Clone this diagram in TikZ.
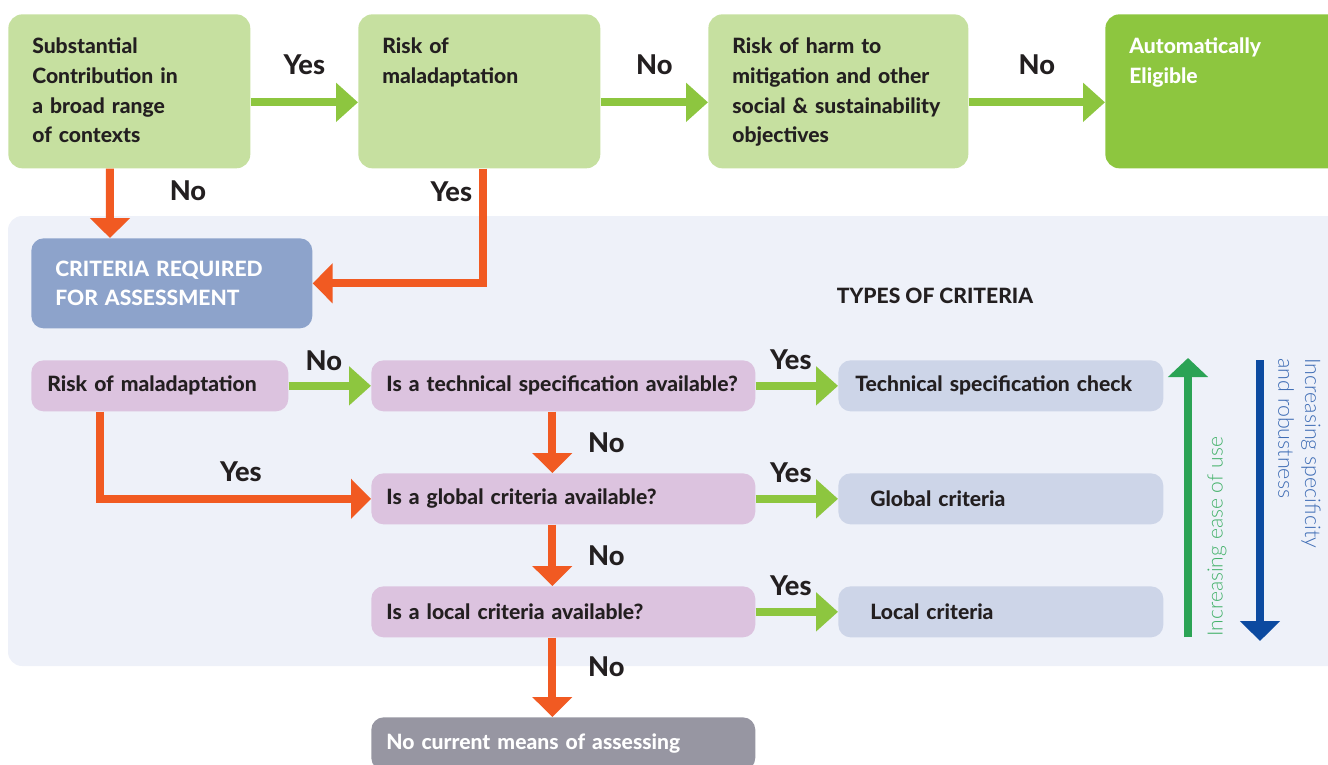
\documentclass[tikz,border=0pt]{standalone}
\usepackage{fontspec}
\setmainfont{Lato}[BoldFont={Lato Heavy}]
\newfontfamily\thinfont{Lato Light}
\usetikzlibrary{arrows.meta}

\definecolor{ink}{HTML}{231F20}
\definecolor{leafpale}{HTML}{C6E0A0}
\definecolor{leafdark}{HTML}{8DC63F}
\definecolor{stoporange}{HTML}{F15A22}
\definecolor{panelgrey}{HTML}{EEF1F9}
\definecolor{critblue}{HTML}{8DA3CB}
\definecolor{askpink}{HTML}{DCC3DF}
\definecolor{typeblue}{HTML}{CDD5E8}
\definecolor{noneGrey}{HTML}{9796A2}
\definecolor{easegreen}{HTML}{2BA355}
\definecolor{easetext}{HTML}{45B26B}
\definecolor{specblue}{HTML}{0C4AA0}
\definecolor{spectext}{HTML}{3F6DB5}

\tikzset{
  boxfont/.style={font=\bfseries\fontsize{12}{17}\selectfont},
  topbox/.style={boxfont, anchor=north west, fill=leafpale, text=ink,
    rounded corners=8pt, align=left, inner xsep=0.48cm, inner ysep=0pt,
    text height=0.78cm, text depth=2.30cm},
  midbox/.style={boxfont, anchor=north west, text=ink, rounded corners=7pt,
    align=left, inner ysep=0pt, minimum height=1.02cm},
  yesno/.style={font=\bfseries\fontsize{15.5}{18}\selectfont, text=ink},
  goarrow/.style={draw=leafdark, line width=0.16cm,
    -{Triangle[length=0.44cm,width=0.76cm]}},
  stoparrow/.style={draw=stoporange, line width=0.16cm,
    -{Triangle[length=0.40cm,width=0.78cm]}},
}

\begin{document}
\begin{tikzpicture}[x=0.02cm,y=-0.02cm]
  \useasboundingbox (0,0) rectangle (1328,764);
  \fill[panelgrey, rounded corners=8pt] (8,216) rectangle (1350,666);

  % top row
  \node[topbox, text width=3.88cm] (contrib) at (8,14) {Substantial\\Contribution in\\a broad range\\of contexts};
  \node[topbox, text width=3.88cm] (riskA) at (358,14) {Risk of\\maladaptation};
  \node[topbox, text width=4.24cm] (harm) at (708,14) {Risk of harm to\\mitigation and other\\social \& sustainability\\objectives};
  \node[topbox, text width=4.24cm, fill=leafdark, text=white] (eligible) at (1105,14) {Automatically\\Eligible};

  \node[midbox, fill=critblue, text=white, text width=4.66cm, inner xsep=0.48cm, minimum height=1.8cm] (crit) at (31,238) {CRITERIA REQUIRED\\FOR ASSESSMENT};
  \node[boxfont, text=ink] (types) at (935,296) {TYPES OF CRITERIA};

  % questions
  \node[midbox, fill=askpink, text width=4.5cm, inner xsep=0.32cm] (riskB) at (31,360) {Risk of maladaptation};
  \node[midbox, fill=askpink, text width=7.08cm, inner xsep=0.3cm] (techQ) at (371,360) {Is a technical specification available?};
  \node[midbox, fill=askpink, text width=7.08cm, inner xsep=0.3cm] (globQ) at (371,473) {Is a global criteria available?};
  \node[midbox, fill=askpink, text width=7.08cm, inner xsep=0.3cm] (locQ) at (371,586) {Is a local criteria available?};
  \node[midbox, fill=noneGrey, text=white, text width=7.08cm, inner xsep=0.3cm, minimum height=1.06cm] (none) at (371,717) {No current means of assessing};

  \node[midbox, fill=typeblue, text width=5.82cm, inner xsep=0.34cm] (techC) at (838,360) {Technical specification check};
  \node[midbox, fill=typeblue, text width=5.22cm, inner xsep=0.64cm] (globC) at (838,473) {Global criteria};
  \node[midbox, fill=typeblue, text width=5.22cm, inner xsep=0.64cm] (locC) at (838,586) {Local criteria};

  % connectors
  \draw[goarrow] ([yshift=-0.22cm]contrib.east) -- node[yesno, yshift=0.76cm] {Yes} ([yshift=-0.22cm]riskA.west);
  \draw[goarrow] ([yshift=-0.22cm]riskA.east) -- node[yesno, yshift=0.76cm] {No} ([yshift=-0.22cm]harm.west);
  \draw[goarrow] ([yshift=-0.22cm]harm.east) -- node[yesno, yshift=0.76cm] {No} ([yshift=-0.22cm]eligible.west);
  \draw[stoparrow] ([xshift=2.04cm]contrib.south west) -- node[yesno, xshift=1.56cm, yshift=0.26cm] {No} ([xshift=1.58cm]crit.north west);
  \draw[stoparrow] ([xshift=0.08cm]riskA.south) |- node[pos=0.1, yesno, xshift=-0.64cm] {Yes} (crit.east);

  \draw[goarrow] (riskB) -- node[yesno, xshift=-0.12cm, yshift=0.5cm] {No} (techQ);
  \draw[stoparrow] ([xshift=1.38cm]riskB.south west) |- node[pos=0.76, yesno, yshift=0.54cm] {Yes} (globQ.west);
  \draw[goarrow] (techQ) -- node[yesno, xshift=-0.12cm, yshift=0.52cm] {Yes} (techC);
  \draw[goarrow] (globQ) -- node[yesno, xshift=-0.12cm, yshift=0.52cm] {Yes} (globC);
  \draw[goarrow] (locQ) -- node[yesno, xshift=-0.12cm, yshift=0.52cm] {Yes} (locC);
  \draw[stoparrow] ([xshift=-0.22cm]techQ.south) -- node[yesno, xshift=1.08cm] {No} ([xshift=-0.22cm]globQ.north);
  \draw[stoparrow] ([xshift=-0.22cm]globQ.south) -- node[yesno, xshift=1.08cm] {No} ([xshift=-0.22cm]locQ.north);
  \draw[stoparrow] ([xshift=-0.22cm]locQ.south) -- node[yesno, xshift=1.08cm, yshift=0.22cm] {No} ([xshift=-0.22cm]none.north);

  % side scales
  \coordinate (easeLo) at (1188,637);
  \coordinate (easeHi) at (1188,358);
  \coordinate (specHi) at (1260,360);
  \coordinate (specLo) at (1260,641);
  \draw[draw=easegreen, line width=0.16cm, -{Triangle[length=0.38cm,width=0.78cm]}] (easeLo) -- (easeHi);
  \draw[draw=specblue, line width=0.16cm, -{Triangle[length=0.40cm,width=0.78cm]}] (specHi) -- (specLo);
  \node[rotate=90, anchor=west, text=easetext, font=\thinfont\fontsize{12}{15}\selectfont, inner sep=0pt] (easelab) at (1217,637) {Increasing ease of use};
  \node[rotate=-90, anchor=north west, align=left, text=spectext, font=\thinfont\fontsize{12.2}{15.3}\selectfont, inner sep=0pt] (speclab) at (1321,358) {Increasing specificity\\and robustness};
\end{tikzpicture}
\end{document}
